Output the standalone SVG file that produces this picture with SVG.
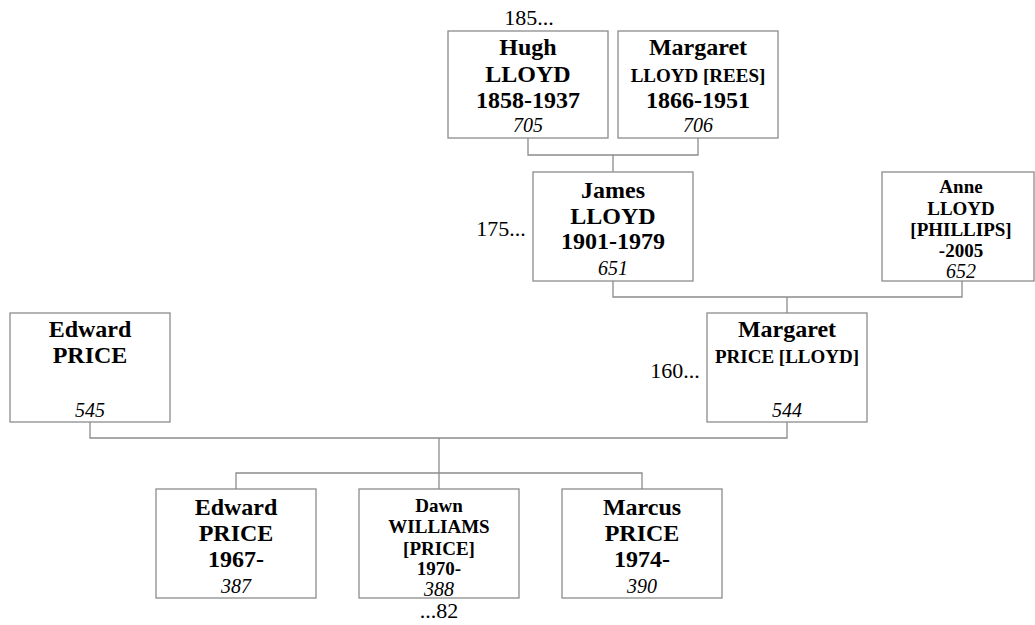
<svg xmlns="http://www.w3.org/2000/svg" width="1035" height="625" viewBox="0 0 1035 625">
<style>
.box{fill:#fff;stroke:#8c8c8c;stroke-width:1.3}
.ln{fill:none;stroke:#8c8c8c;stroke-width:1.3}
text{font-family:"Liberation Serif","Times New Roman",serif;text-anchor:middle;fill:#000}
.n{font-weight:bold;font-size:24px}
.s{font-weight:bold;font-size:19px}
.id{font-style:italic;font-size:20px}
.a{font-size:22px}
</style>
<rect width="1035" height="625" fill="#fff"/>
<g id="connectors">
<path class="ln" d="M528 138V155H698V138M613 155V172"/>
<path class="ln" d="M613 281V297H962V281M787 297V313"/>
<path class="ln" d="M90 422V438H787V422M439 438V473M236 489V473H642V489M439 473V489"/>
</g>
<g id="hugh">
<rect class="box" x="448" y="31" width="160" height="107"/>
<text class="n" x="528" y="55">Hugh</text>
<text class="n" x="528" y="82">LLOYD</text>
<text class="n" x="528" y="108">1858-1937</text>
<text class="id" x="528" y="132">705</text>
<text class="a" x="529" y="25">185...</text>
</g>
<g id="margaret-rees">
<rect class="box" x="618" y="31" width="160" height="107"/>
<text class="n" x="698" y="55">Margaret</text>
<text class="s" x="698" y="82">LLOYD [REES]</text>
<text class="n" x="698" y="108">1866-1951</text>
<text class="id" x="698" y="132">706</text>
</g>
<g id="james">
<rect class="box" x="533" y="172" width="160" height="109"/>
<text class="n" x="613" y="198">James</text>
<text class="n" x="613" y="224">LLOYD</text>
<text class="n" x="613" y="249">1901-1979</text>
<text class="id" x="613" y="275">651</text>
<text class="a" x="501" y="236">175...</text>
</g>
<g id="anne">
<rect class="box" x="882" y="172" width="152" height="109"/>
<text class="s" x="961" y="193">Anne</text>
<text class="s" x="961" y="215">LLOYD</text>
<text class="s" x="961" y="236">[PHILLIPS]</text>
<text class="s" x="961" y="257">-2005</text>
<text class="id" x="961" y="278">652</text>
</g>
<g id="edward-sr">
<rect class="box" x="10" y="313" width="160" height="109"/>
<text class="n" x="90" y="337">Edward</text>
<text class="n" x="90" y="363">PRICE</text>
<text class="id" x="90" y="417">545</text>
</g>
<g id="margaret-price">
<rect class="box" x="707" y="313" width="160" height="109"/>
<text class="n" x="787" y="337">Margaret</text>
<text class="s" x="787" y="363">PRICE [LLOYD]</text>
<text class="id" x="787" y="417">544</text>
<text class="a" x="675" y="378">160...</text>
</g>
<g id="edward-jr">
<rect class="box" x="156" y="489" width="160" height="109"/>
<text class="n" x="236" y="515">Edward</text>
<text class="n" x="236" y="541">PRICE</text>
<text class="n" x="236" y="567">1967-</text>
<text class="id" x="236" y="593">387</text>
</g>
<g id="dawn">
<rect class="box" x="359" y="489" width="160" height="109"/>
<text class="s" x="439" y="512">Dawn</text>
<text class="s" x="439" y="533">WILLIAMS</text>
<text class="s" x="439" y="555">[PRICE]</text>
<text class="s" x="439" y="575">1970-</text>
<text class="id" x="439" y="596">388</text>
<text class="a" x="439" y="618">...82</text>
</g>
<g id="marcus">
<rect class="box" x="562" y="489" width="160" height="109"/>
<text class="n" x="642" y="515">Marcus</text>
<text class="n" x="642" y="541">PRICE</text>
<text class="n" x="642" y="567">1974-</text>
<text class="id" x="642" y="593">390</text>
</g>
</svg>
